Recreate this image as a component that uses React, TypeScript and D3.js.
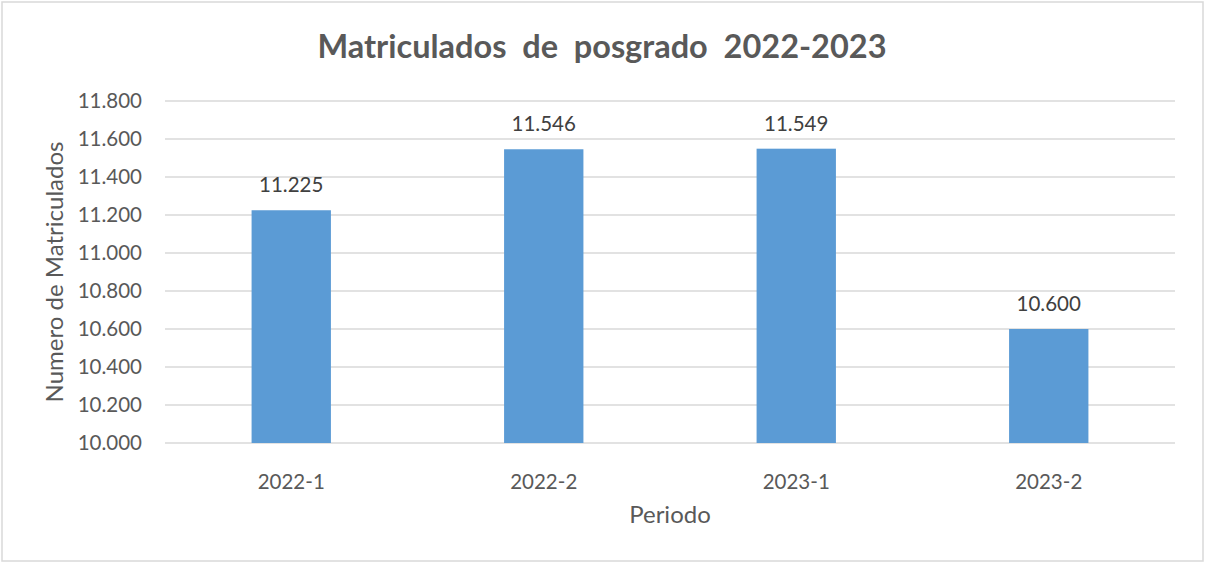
import React from "react";
import * as d3 from "d3";

const categories = ["2022-1", "2022-2", "2023-1", "2023-2"];
const values = [11225, 11546, 11549, 10600];
const yTicks = [10000, 10200, 10400, 10600, 10800, 11000, 11200, 11400, 11600, 11800];

const W = 1205;
const H = 563;
const margin = { left: 165, right: 30, top: 101, bottom: 120 };
const FONT = "Lato, 'Open Sans', sans-serif";
const TEXT = "#595959";

const fmt = (v: number) => d3.format(",.0f")(v).replace(/,/g, ".");

export default function App() {
  const x = d3
    .scaleBand<string>()
    .domain(categories)
    .range([margin.left, W - margin.right])
    .paddingInner(0.6858)
    .paddingOuter(0.3429);
  const y = d3.scaleLinear().domain([10000, 11800]).range([H - margin.bottom, margin.top]);
  const plotCx = (margin.left + W - margin.right) / 2;

  return (
    <svg width={W} height={H} style={{ position: "absolute", left: 0, top: 0 }}>
      <rect x={0} y={0} width={W} height={H} fill="#fff" />
      <rect x={2} y={2} width={W - 4} height={H - 4} fill="#fff" stroke="#D9D9D9" strokeWidth={1.5} />
      <text x={602} y={58} textAnchor="middle" fontFamily={FONT} fontWeight="bold" fontSize={32.5} fill={TEXT} style={{ whiteSpace: "pre" }}>
        Matriculados  de  posgrado  2022-2023
      </text>
      {yTicks.map((t) => (
        <g key={t}>
          <line x1={margin.left} x2={W - margin.right} y1={y(t)} y2={y(t)} stroke="#D9D9D9" strokeWidth={1.3} />
          <text x={142} y={y(t) + 7} textAnchor="end" fontFamily={FONT} fontSize={20.5} fill={TEXT}>
            {fmt(t)}
          </text>
        </g>
      ))}
      {categories.map((c, i) => (
        <g key={c}>
          <rect x={x(c)!} y={y(values[i])} width={x.bandwidth()} height={y(10000) - y(values[i])} fill="#5B9BD5" />
          <text x={x(c)! + x.bandwidth() / 2} y={y(values[i]) - 18} textAnchor="middle" fontFamily={FONT} fontSize={20.5} fill="#404040">
            {fmt(values[i])}
          </text>
          <text x={x(c)! + x.bandwidth() / 2} y={489} textAnchor="middle" fontFamily={FONT} fontSize={20.5} fill={TEXT}>
            {c}
          </text>
        </g>
      ))}
      <text x={plotCx} y={523} textAnchor="middle" fontFamily={FONT} fontSize={24} fill={TEXT}>
        Periodo
      </text>
      <text transform={`translate(63, ${(y(10000) + y(11800)) / 2}) rotate(-90)`} textAnchor="middle" fontFamily={FONT} fontSize={24} fill={TEXT}>
        Numero de Matriculados
      </text>
    </svg>
  );
}
